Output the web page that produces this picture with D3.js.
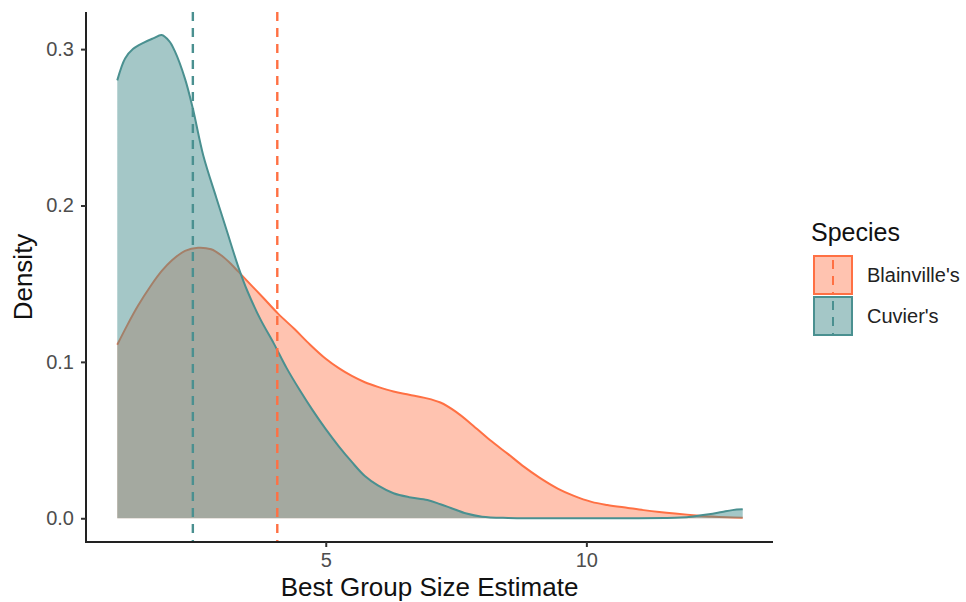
<!DOCTYPE html>
<html><head><meta charset="utf-8">
<script src="https://cdn.jsdelivr.net/npm/d3@7"></script>
<style>body{margin:0;background:#fff}svg{display:block}text{font-family:"Liberation Sans",Arial,sans-serif}</style>
</head><body><svg id="c" width="966" height="602"></svg>
<script>
const species = ["Blainville's", "Cuvier's"];
const colors = ["#FF7043", "#4A9090"];
const fillOpacity = [0.42, 0.5];
const meanLines = [4.07, 2.45];

const blainX = [1.0,1.2,1.4,1.65,1.85,2.05,2.3,2.55,2.8,3.0,3.2,3.4,3.6,3.8,4.08,4.4,4.7,5.0,5.25,5.5,5.75,6.0,6.3,6.6,6.9,7.2,7.5,7.8,8.15,8.5,8.8,9.1,9.45,9.75,10.1,10.4,10.8,11.1,11.4,11.7,12.05,12.4,12.7,13.0];
const blainY = [0.111,0.124,0.136,0.149,0.158,0.165,0.171,0.173,0.172,0.168,0.162,0.155,0.148,0.141,0.131,0.121,0.111,0.102,0.096,0.091,0.087,0.084,0.081,0.079,0.077,0.074,0.068,0.060,0.050,0.041,0.033,0.026,0.019,0.0145,0.0105,0.0085,0.0066,0.0052,0.004,0.003,0.002,0.0011,0.0006,0.0003];

const cuvX = [1.0,1.15,1.3,1.5,1.7,1.85,2.0,2.1,2.3,2.45,2.65,2.9,3.1,3.33,3.5,3.75,4.0,4.25,4.5,4.75,5.0,5.25,5.5,5.75,6.0,6.3,6.6,6.95,7.2,7.4,7.7,8.0,8.5,9.0,10.0,11.0,11.5,11.8,12.05,12.35,12.6,12.8,13.0];
const cuvY = [0.280,0.294,0.300,0.304,0.307,0.309,0.305,0.299,0.281,0.262,0.232,0.205,0.184,0.160,0.145,0.127,0.112,0.096,0.082,0.069,0.057,0.046,0.036,0.027,0.021,0.016,0.0135,0.0117,0.009,0.0066,0.003,0.001,0.0002,0.0,0.0,0.0,0.0002,0.0005,0.0012,0.0025,0.0040,0.0052,0.0057];

const xTicks = [5, 10];
const yTicks = [0.0, 0.1, 0.2, 0.3];

const svg = d3.select("#c");
const x = d3.scaleLinear().domain([0.4, 13.6]).range([86, 774]);
const y = d3.scaleLinear().domain([-0.0155, 0.3245]).range([542.5, 10.8]);

const series = [
  blainX.map((v,i)=>({x:v,y:blainY[i]})),
  cuvX.map((v,i)=>({x:v,y:cuvY[i]}))
];
const curve = d3.curveCatmullRom.alpha(0.5);
const area = d3.area().x(d=>x(d.x)).y0(y(0)).y1(d=>y(Math.max(0,d.y))).curve(curve);
const line = d3.line().x(d=>x(d.x)).y(d=>y(d.y)).curve(curve);

series.forEach((s,i)=>{
  svg.append("path").attr("d", area(s)).attr("fill", colors[i]).attr("fill-opacity", fillOpacity[i]);
  svg.append("path").attr("d", line(s)).attr("fill","none").attr("stroke", colors[i]).attr("stroke-width", 2);
});

meanLines.forEach((m,i)=>{
  svg.append("line").attr("x1", x(m)).attr("x2", x(m)).attr("y1", 12).attr("y2", 542)
    .attr("stroke", colors[i]).attr("stroke-width", 2.4).attr("stroke-dasharray", "9,7");
});

// axes
const ax = svg.append("g").attr("transform","translate(0,542)")
  .call(d3.axisBottom(x).tickValues(xTicks).tickSize(5).tickSizeOuter(0).tickPadding(6).tickFormat(d3.format("d")));
const ay = svg.append("g").attr("transform","translate(86,0)")
  .call(d3.axisLeft(y).tickValues(yTicks).tickSize(5).tickSizeOuter(0).tickPadding(7).tickFormat(d3.format(".1f")));
[ax, ay].forEach(g=>{
  g.select(".domain").attr("stroke","#222").attr("stroke-width",2);
  g.selectAll(".tick line").attr("stroke","#333").attr("stroke-width",2);
  g.selectAll(".tick text").attr("fill","#4d4d4d").style("font-size","20px").style("font-family","Liberation Sans, Arial, sans-serif");
});
ay.select(".domain").attr("d","M0,12V543");
ax.select(".domain").attr("d","M85,0H773");

svg.append("text").attr("x", 429.5).attr("y", 596).attr("text-anchor","middle")
  .style("font-size","26px").attr("fill","#111").text("Best Group Size Estimate");
svg.append("text").attr("transform","translate(32,277) rotate(-90)").attr("text-anchor","middle")
  .style("font-size","26px").attr("fill","#111").text("Density");

// legend
const lg = svg.append("g");
lg.append("text").attr("x", 811).attr("y", 241).style("font-size","25px").attr("fill","#111").text("Species");
species.forEach((sp,i)=>{
  const y0 = 256 + i*41;
  lg.append("rect").attr("x", 814).attr("y", y0).attr("width", 38).attr("height", 38)
    .attr("fill", colors[i]).attr("fill-opacity", fillOpacity[i]).attr("stroke", colors[i]).attr("stroke-width", 2);
  lg.append("line").attr("x1", 833).attr("x2", 833).attr("y1", y0+1).attr("y2", y0+37)
    .attr("stroke", colors[i]).attr("stroke-width", 2).attr("stroke-dasharray", "9,7").attr("stroke-dashoffset", -3);
  lg.append("text").attr("x", 867).attr("y", y0+19).attr("dy","0.35em").style("font-size","20px").attr("fill","#222").text(sp);
});
</script></body></html>
